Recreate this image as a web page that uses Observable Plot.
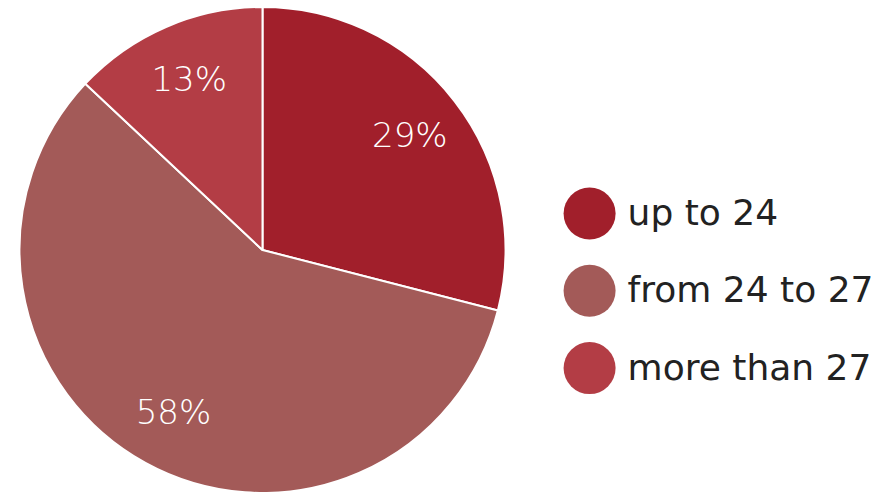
<!DOCTYPE html>
<html><head><meta charset="utf-8">
<script src="https://cdn.jsdelivr.net/npm/d3@7"></script>
<script src="https://cdn.jsdelivr.net/npm/@observablehq/plot@0.6"></script>
<style>html,body{margin:0;padding:0;background:#fff;overflow:hidden}</style>
</head><body><div id="chart"></div>
<script>
const categories = ["up to 24", "from 24 to 27", "more than 27"];
const values = [29, 58, 13];
const labels = ["29%", "58%", "13%"];
const colors = ["#a11f2b", "#a35a58", "#b33d45"];

const data = categories.map((c, i) => ({category: c, value: values[i], label: labels[i], i}));
const arcs = d3.pie().value(d => d.value).sort(null)(data);
const labelR = 0.765;
const labelPts = arcs.map(a => {
  const m = (a.startAngle + a.endAngle) / 2;
  return {...a.data, x: labelR * Math.sin(m), y: labelR * Math.cos(m)};
});
const legendX = 1.344;
const legend = data.map(d => ({...d, x: legendX, y: 0.152 - d.i * 0.318}));

const font = "'DejaVu Sans', sans-serif";

const slices = (index, scales, values, dims) => {
  const cx = scales.x(0), cy = scales.y(0);
  const R = scales.x(1) - cx;
  const g = d3.create("svg:g").attr("transform", `translate(${cx},${cy})`);
  const arc = d3.arc().innerRadius(0).outerRadius(R);
  g.selectAll("path").data(arcs).join("path")
    .attr("d", arc)
    .attr("fill", d => scales.color(d.data.category))
    .attr("stroke", "#fff")
    .attr("stroke-width", 2)
    .attr("stroke-linejoin", "round");
  return g.node();
};

const chart = Plot.plot({
  width: 893,
  height: 492,
  margin: 0,
  style: {fontFamily: font, background: "#fff"},
  x: {domain: [-1, 1], range: [19.5, 505.5], axis: null},
  y: {domain: [-1, 1], range: [493, 7], axis: null},
  color: {domain: categories, range: colors},
  marks: [
    slices,
    Plot.text(labelPts, {x: "x", y: "y", text: "label", fill: "#fff", fontSize: 34, fontWeight: 300}),
    Plot.dot(legend, {x: "x", y: "y", fill: "category", r: 26}),
    Plot.text(legend, {x: "x", y: "y", text: "category", dx: 38, textAnchor: "start", fill: "#222", fontSize: 36, fontWeight: 400})
  ]
});
document.getElementById("chart").appendChild(chart);
</script>
</body></html>
